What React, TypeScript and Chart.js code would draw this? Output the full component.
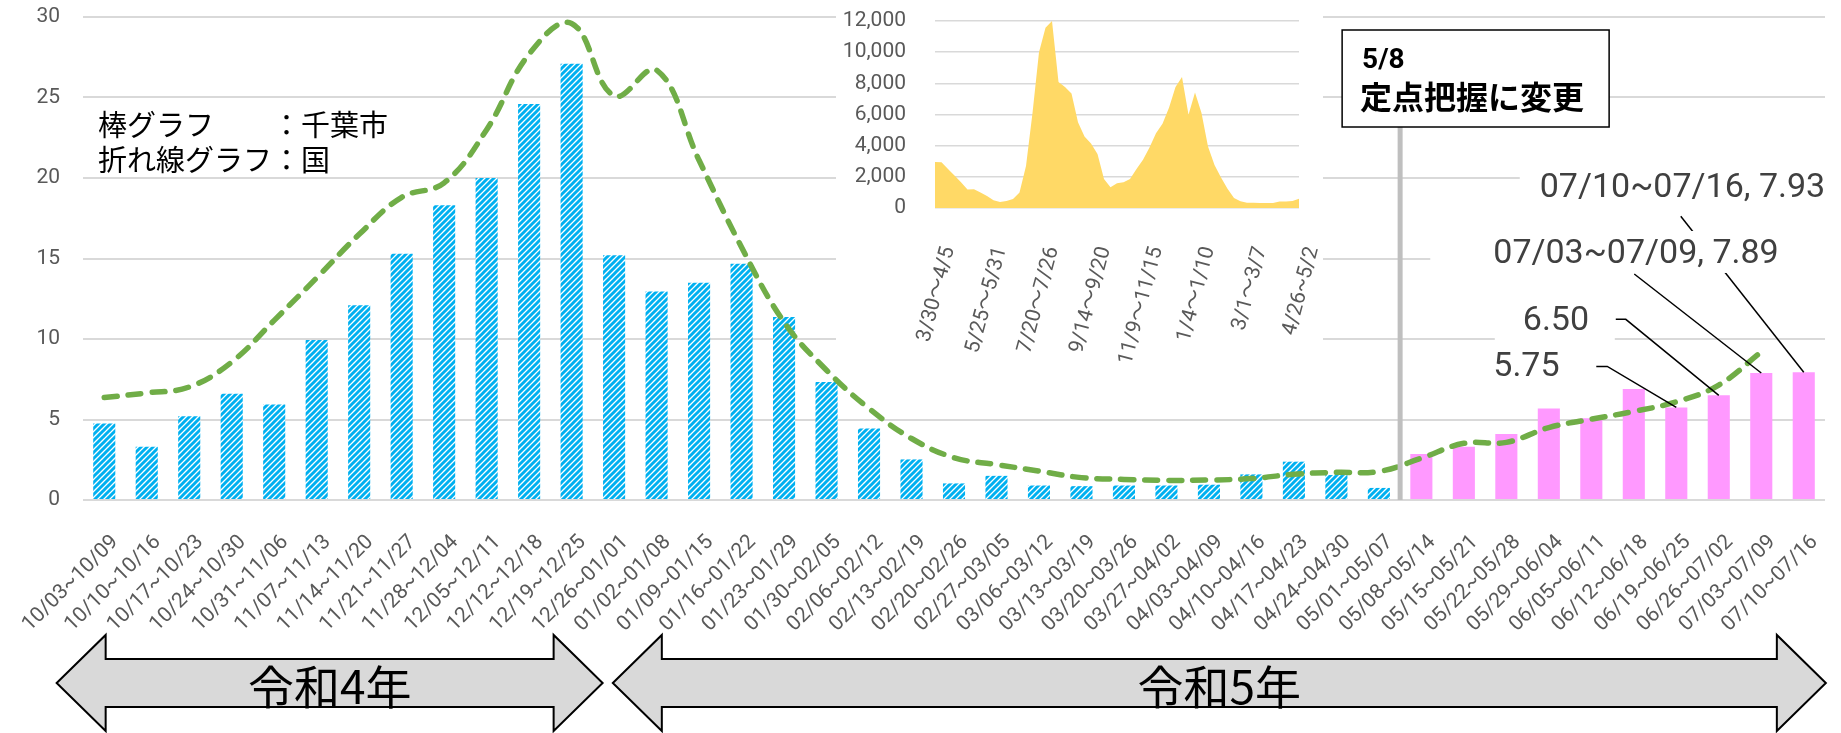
import React, { useEffect, useRef } from 'react';
import { Chart, registerables } from 'chart.js';

Chart.register(...registerables);

// ---------------- data ----------------
const weeks = [
  '10/03~10/09', '10/10~10/16', '10/17~10/23', '10/24~10/30', '10/31~11/06', '11/07~11/13',
  '11/14~11/20', '11/21~11/27', '11/28~12/04', '12/05~12/11', '12/12~12/18', '12/19~12/25',
  '12/26~01/01', '01/02~01/08', '01/09~01/15', '01/16~01/22', '01/23~01/29', '01/30~02/05',
  '02/06~02/12', '02/13~02/19', '02/20~02/26', '02/27~03/05', '03/06~03/12', '03/13~03/19',
  '03/20~03/26', '03/27~04/02', '04/03~04/09', '04/10~04/16', '04/17~04/23', '04/24~04/30',
  '05/01~05/07', '05/08~05/14', '05/15~05/21', '05/22~05/28', '05/29~06/04', '06/05~06/11',
  '06/12~06/18', '06/19~06/25', '06/26~07/02', '07/03~07/09', '07/10~07/16',
];

// 千葉市 (全数把握, 10/03 – 05/07)
const chibaAllCount = [
  4.75, 3.3, 5.2, 6.6, 5.93, 9.94, 12.1, 15.3, 18.3, 20.0, 24.6, 27.1, 15.2, 12.95, 13.5, 14.67,
  11.36, 7.33, 4.44, 2.52, 1.03, 1.5, 0.9, 0.86, 0.9, 0.9, 0.95, 1.59, 2.38, 1.55, 0.75,
];
// 千葉市 (定点把握, 05/08 – 07/16)
const chibaSentinel = [2.86, 3.31, 4.1, 5.69, 5.07, 6.89, 5.75, 6.5, 7.89, 7.93];

// 国 (10/03 – 07/09)
const national = [
  6.36, 6.65, 7.02, 8.57, 11.16, 13.8, 16.5, 18.8, 19.7, 23.0, 27.7, 29.6, 25.1, 26.7, 21.1, 15.7,
  11.05, 8.06, 5.68, 3.82, 2.63, 2.2, 1.8, 1.39, 1.28, 1.22, 1.24, 1.33, 1.6, 1.72, 1.77, 2.6,
  3.52, 3.58, 4.5, 5.02, 5.5, 6.1, 7.14, 9.2,
];

const mainYTicks = { min: 0, max: 30, step: 5 };

// 挿入グラフ (週別)
const insetWeeks = [
  '3/30～4/5', '4/6～4/12', '4/13～4/19', '4/20～4/26', '4/27～5/3', '5/4～5/10', '5/11～5/17', '5/18～5/24',
  '5/25～5/31', '6/1～6/7', '6/8～6/14', '6/15～6/21', '6/22～6/28', '6/29～7/5', '7/6～7/12', '7/13～7/19',
  '7/20～7/26', '7/27～8/2', '8/3～8/9', '8/10～8/16', '8/17～8/23', '8/24～8/30', '8/31～9/6', '9/7～9/13',
  '9/14～9/20', '9/21～9/27', '9/28～10/4', '10/5～10/11', '10/12～10/18', '10/19～10/25', '10/26～11/1', '11/2～11/8',
  '11/9～11/15', '11/16～11/22', '11/23～11/29', '11/30～12/6', '12/7～12/13', '12/14～12/20', '12/21～12/27', '12/28～1/3',
  '1/4～1/10', '1/11～1/17', '1/18～1/24', '1/25～1/31', '2/1～2/7', '2/8～2/14', '2/15～2/21', '2/22～2/28',
  '3/1～3/7', '3/8～3/14', '3/15～3/21', '3/22～3/28', '3/29～4/4', '4/5～4/11', '4/12～4/18', '4/19～4/25',
  '4/26~5/2',
];
const insetCounts = [
  2957, 2936, 2500, 2080, 1650, 1180, 1200, 1000, 770, 490, 390, 450, 580, 990, 2700, 6090,
  9990, 11570, 12000, 8080, 7760, 7350, 5510, 4590, 4140, 3470, 1860, 1330, 1590, 1650, 1860, 2510,
  3090, 3880, 4800, 5400, 6430, 7760, 8400, 5980, 7410, 6090, 3940, 2760, 1950, 1240, 640, 430,
  340, 340, 320, 320, 320, 410, 410, 450, 600,
];
const insetYTicks = { min: 0, max: 12000, step: 2000 };

// ---------------- texts ----------------
const legendLines = ['棒グラフ　　：千葉市', '折れ線グラフ：国'];
const eraLabels = ['令和4年', '令和5年'];
const changeNote = ['5/8', '定点把握に変更'];

const SANS = 'Roboto, "Noto Sans CJK JP", sans-serif';
const CJK = '"Noto Sans CJK JP", sans-serif';

function makeHatch(ctx: CanvasRenderingContext2D) {
  const t = document.createElement('canvas');
  const T = 6;
  t.width = T;
  t.height = T;
  const g = t.getContext('2d')!;
  g.fillStyle = '#ffffff';
  g.fillRect(0, 0, T, T);
  g.strokeStyle = '#00B0F0';
  g.lineWidth = 3;
  g.beginPath();
  g.moveTo(-1, T + 1);
  g.lineTo(T + 1, -1);
  g.moveTo(-1, 1);
  g.lineTo(1, -1);
  g.moveTo(T - 1, T + 1);
  g.lineTo(T + 1, T - 1);
  g.stroke();
  return ctx.createPattern(t, 'repeat')!;
}

function drawDoubleArrow(ctx: CanvasRenderingContext2D, x1: number, x2: number, yMid: number) {
  const shaftHalf = 24;
  const headHalf = 48;
  const headLen = 49;
  ctx.save();
  ctx.beginPath();
  ctx.moveTo(x1, yMid);
  ctx.lineTo(x1 + headLen, yMid - headHalf);
  ctx.lineTo(x1 + headLen, yMid - shaftHalf);
  ctx.lineTo(x2 - headLen, yMid - shaftHalf);
  ctx.lineTo(x2 - headLen, yMid - headHalf);
  ctx.lineTo(x2, yMid);
  ctx.lineTo(x2 - headLen, yMid + headHalf);
  ctx.lineTo(x2 - headLen, yMid + shaftHalf);
  ctx.lineTo(x1 + headLen, yMid + shaftHalf);
  ctx.lineTo(x1 + headLen, yMid + headHalf);
  ctx.closePath();
  ctx.fillStyle = '#d9d9d9';
  ctx.fill();
  ctx.strokeStyle = '#000';
  ctx.lineWidth = 2;
  ctx.lineJoin = 'miter';
  ctx.stroke();
  ctx.restore();
}

const decorPlugin = {
  id: 'decor',
  afterDraw(chart: any) {
    const { ctx } = chart;
    const x = chart.scales.x;
    const y = chart.scales.y;
    const px = (i: number) => x.getPixelForValue(i);

    ctx.save();

    // legend-like note
    ctx.fillStyle = '#000';
    ctx.font = `29px ${CJK}`;
    ctx.textAlign = 'left';
    ctx.textBaseline = 'middle';
    ctx.fillText(legendLines[0], 98, 125);
    ctx.fillText(legendLines[1], 98, 160);

    // 5/8 vertical line + box
    const vx = (px(30) + px(31)) / 2;
    const boxTop = 30;
    const boxBottom = 127;
    ctx.strokeStyle = '#bfbfbf';
    ctx.lineWidth = 5;
    ctx.beginPath();
    ctx.moveTo(vx, boxBottom);
    ctx.lineTo(vx, y.getPixelForValue(0));
    ctx.stroke();

    const bl = vx - 58;
    const br = vx + 209;
    ctx.fillStyle = '#fff';
    ctx.fillRect(bl, boxTop, br - bl, boxBottom - boxTop);
    ctx.strokeStyle = '#000';
    ctx.lineWidth = 1.5;
    ctx.strokeRect(bl, boxTop, br - bl, boxBottom - boxTop);
    ctx.fillStyle = '#000';
    ctx.font = `bold 28px ${SANS}`;
    ctx.fillText(changeNote[0], bl + 20, 61);
    ctx.font = `bold 32px ${CJK}`;
    ctx.fillText(changeNote[1], bl + 18, 97);

    // data labels with leader lines
    const allValues = [...chibaAllCount, ...chibaSentinel];
    const labelDefs = [
      { i: 37, withCat: false, t: [-183, -40], lead: [[-80, -41], [-69, -41]], bg: [-24, -22, 120, 44] },
      { i: 38, withCat: false, t: [-196, -74], lead: [[-103, -76], [-93, -76]], bg: [-28, -21.5, 120, 43] },
      { i: 39, withCat: true, t: [-268, -118], lead: [[-127, -99]], bg: [-63, -24, 420, 42] },
      { i: 40, withCat: true, t: [-264, -184], lead: [[-123, -156]], bg: [-20, -23.5, 330, 50] },
    ];
    const items = labelDefs.map((d) => {
      const bx = px(d.i);
      const by = y.getPixelForValue(allValues[d.i]);
      const v = allValues[d.i].toFixed(2);
      return { ...d, bx, by, text: d.withCat ? `${weeks[d.i]}, ${v}` : v };
    });
    ctx.strokeStyle = '#000';
    ctx.lineWidth = 1.5;
    items.forEach((it) => {
      ctx.beginPath();
      ctx.moveTo(it.bx + it.lead[0][0], it.by + it.lead[0][1]);
      for (let k = 1; k < it.lead.length; k++) ctx.lineTo(it.bx + it.lead[k][0], it.by + it.lead[k][1]);
      ctx.lineTo(it.bx, it.by);
      ctx.stroke();
    });
    items.forEach((it) => {
      const tx = it.bx + it.t[0];
      const ty = it.by + it.t[1];
      ctx.fillStyle = '#fff';
      ctx.fillRect(tx + it.bg[0], ty + it.bg[1], it.bg[2], it.bg[3]);
    });
    ctx.fillStyle = '#404040';
    ctx.font = `34px ${SANS}`;
    items.forEach((it) => {
      ctx.fillText(it.text, it.bx + it.t[0], it.by + it.t[1]);
    });

    // era arrows
    const ay = 683;
    const a1 = [px(-1.12), px(11.73)];
    const a2 = [px(11.97), px(40.52)];
    drawDoubleArrow(ctx, a1[0], a1[1], ay);
    drawDoubleArrow(ctx, a2[0], a2[1], ay);
    ctx.fillStyle = '#000';
    ctx.font = `46px ${CJK}`;
    ctx.textAlign = 'center';
    ctx.textBaseline = 'middle';
    ctx.fillText(eraLabels[0], (a1[0] + a1[1]) / 2, ay + 4);
    ctx.fillText(eraLabels[1], (a2[0] + a2[1]) / 2, ay + 4);

    ctx.restore();
  },
};

export default function App() {
  const mainRef = useRef<HTMLCanvasElement>(null);
  const insetRef = useRef<HTMLCanvasElement>(null);

  useEffect(() => {
    const mc = mainRef.current!;
    const ic = insetRef.current!;
    const hatch = makeHatch(mc.getContext('2d')!);
    const n = weeks.length;
    const padArr = (arr: number[], before: number, total: number) => {
      const out: (number | null)[] = new Array(total).fill(null);
      arr.forEach((v, k) => (out[before + k] = v));
      return out;
    };

    const main = new Chart(mc, {
      type: 'bar',
      data: {
        labels: weeks,
        datasets: [
          {
            type: 'line',
            label: '国',
            data: padArr(national, 0, n),
            borderColor: '#70AD47',
            borderWidth: 5.5,
            borderDash: [13, 11],
            borderCapStyle: 'round',
            pointRadius: 0,
            tension: 0.4,
            fill: false,
            order: 0,
          } as any,
          {
            type: 'bar',
            label: '千葉市',
            data: padArr(chibaAllCount, 0, n),
            backgroundColor: hatch,
            barPercentage: 0.52,
            categoryPercentage: 1,
            grouped: false,
            order: 1,
          } as any,
          {
            type: 'bar',
            label: '千葉市（定点）',
            data: padArr(chibaSentinel, chibaAllCount.length, n),
            backgroundColor: '#FF99FF',
            barPercentage: 0.52,
            categoryPercentage: 1,
            grouped: false,
            order: 1,
          } as any,
        ],
      },
      options: {
        responsive: false,
        animation: false,
        devicePixelRatio: 1,
        layout: { padding: { top: 17, right: 16, left: 0, bottom: 0 } },
        plugins: { legend: { display: false }, tooltip: { enabled: false } },
        scales: {
          x: {
            grid: { display: false },
            border: { display: false },
            ticks: {
              autoSkip: false,
              minRotation: 45,
              maxRotation: 45,
              padding: 22,
              labelOffset: 11,
              color: '#595959',
              font: { family: SANS, size: 21 },
            },
            afterFit: (s: any) => {
              s.height = 233;
              s.paddingLeft = 0;
              s.paddingRight = 0;
            },
          },
          y: {
            min: mainYTicks.min,
            max: mainYTicks.max,
            border: { display: false },
            grid: { color: '#d9d9d9', lineWidth: 2, drawTicks: false },
            ticks: {
              stepSize: mainYTicks.step,
              padding: 23,
              color: '#595959',
              font: { family: SANS, size: 21 },
            },
            afterFit: (s: any) => {
              s.width = 83;
              s.paddingTop = 0;
              s.paddingBottom = 0;
            },
          },
        },
      } as any,
      plugins: [decorPlugin],
    });

    const inset = new Chart(ic, {
      type: 'line',
      data: {
        labels: insetWeeks,
        datasets: [
          {
            label: '千葉市（週別）',
            data: insetCounts,
            borderColor: '#FFD966',
            borderWidth: 0,
            backgroundColor: '#FFD966',
            fill: 'origin',
            pointRadius: 0,
            tension: 0,
          },
        ],
      },
      options: {
        responsive: false,
        animation: false,
        devicePixelRatio: 1,
        layout: { padding: { top: 21, right: 24, left: 0, bottom: 0 } },
        plugins: { legend: { display: false }, tooltip: { enabled: false } },
        scales: {
          x: {
            offset: false,
            grid: { display: false },
            border: { display: false },
            ticks: {
              autoSkip: false,
              minRotation: 75,
              maxRotation: 75,
              padding: 28,
              labelOffset: 14,
              color: '#595959',
              font: { family: SANS, size: 21 },
              callback: function (this: any, value: any, index: number) {
                return index % 8 === 0 ? this.getLabelForValue(value) : '';
              },
            },
            afterFit: (s: any) => {
              s.height = 154;
              s.paddingLeft = 0;
              s.paddingRight = 0;
            },
          },
          y: {
            min: insetYTicks.min,
            max: insetYTicks.max,
            border: { display: false },
            grid: { color: '#d9d9d9', lineWidth: 1.5, drawTicks: false },
            ticks: {
              stepSize: insetYTicks.step,
              padding: 29,
              color: '#595959',
              font: { family: SANS, size: 21 },
              callback: (v: any) => Number(v).toLocaleString('en-US'),
            },
            afterFit: (s: any) => {
              s.width = 99;
              s.paddingTop = 0;
              s.paddingBottom = 0;
            },
          },
        },
      } as any,
    });

    let alive = true;
    if ((document as any).fonts && (document as any).fonts.ready) {
      (document as any).fonts.ready.then(() => {
        if (alive) {
          main.update('none');
          inset.update('none');
        }
      });
    }
    return () => {
      alive = false;
      main.destroy();
      inset.destroy();
    };
  }, []);

  return (
    <div style={{ position: 'absolute', left: 0, top: 0, width: 1841, height: 733, background: '#fff', overflow: 'hidden' }}>
      <canvas
        ref={mainRef}
        width={1841}
        height={733}
        style={{ position: 'absolute', left: 0, top: 0, width: 1841, height: 733 }}
      />
      <canvas
        ref={insetRef}
        width={487}
        height={362}
        style={{ position: 'absolute', left: 836, top: 0, width: 487, height: 362, background: '#fff' }}
      />
    </div>
  );
}
